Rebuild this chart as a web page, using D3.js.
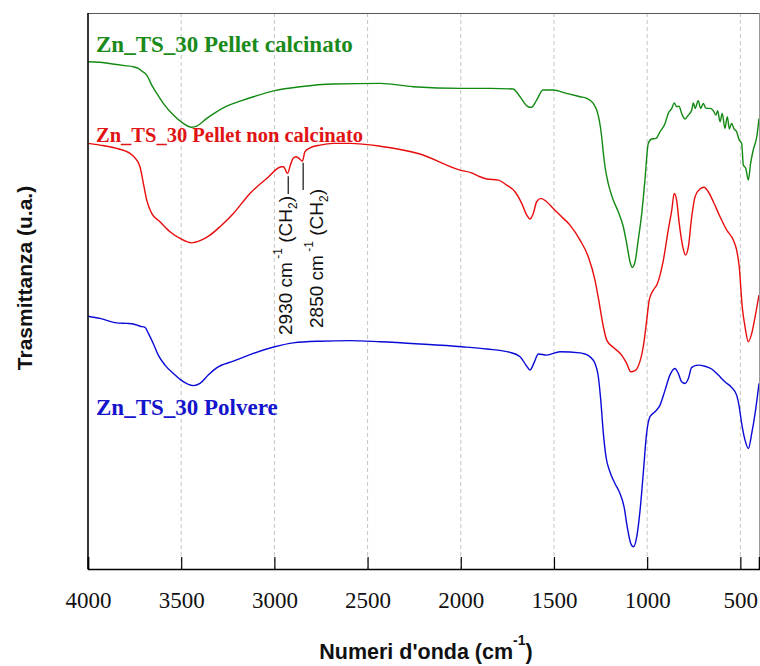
<!DOCTYPE html>
<html>
<head>
<meta charset="utf-8">
<script src="https://cdn.jsdelivr.net/npm/d3@7"></script>
<style>
  html, body { margin: 0; padding: 0; background: #fff; }
  svg { display: block; }
</style>
</head>
<body>
<svg id="chart" width="760" height="666"></svg>
<script>
// FT-IR spectra: [wavenumber (cm^-1), transmittance (a.u.)]
const pelletCalcinato = [
  [4000, 91.3], [3936, 91.2], [3846, 90.8], [3801, 90.6], [3757, 90.4], [3730, 90.1],
  [3710, 89.6], [3685, 88.9], [3658, 87.1], [3631, 85.6], [3596, 83.8], [3542, 81.7],
  [3489, 80.2], [3444, 79.5], [3417, 79.7], [3363, 81.1], [3319, 82.1], [3256, 83.3],
  [3184, 84.2], [3113, 85.0], [2998, 86.1], [2863, 86.8], [2684, 87.3], [2433, 87.4],
  [2256, 86.8], [1999, 86.5], [1843, 86.5], [1720, 86.4], [1682, 85.0], [1639, 83.2],
  [1620, 83.1], [1593, 84.4], [1559, 86.2], [1505, 86.2], [1432, 85.6], [1360, 85.0],
  [1324, 84.7], [1289, 83.8], [1271, 82.6], [1257, 80.8], [1244, 77.8], [1235, 74.8],
  [1226, 72.4], [1209, 69.4], [1182, 66.4], [1155, 64.3], [1128, 61.6], [1110, 58.6],
  [1092, 55.3], [1080, 54.3], [1065, 55.3], [1048, 59.2], [1029, 64.0], [1012, 70.0],
  [994, 76.6], [976, 77.4], [953, 77.5], [931, 78.7], [904, 80.2], [887, 82.0],
  [868, 82.9], [855, 83.9], [842, 83.2], [829, 83.3], [815, 82.0], [797, 81.0],
  [779, 81.7], [761, 82.6], [752, 83.9], [743, 82.9], [726, 84.3], [713, 82.9],
  [699, 83.8], [684, 82.9], [663, 82.9], [645, 82.5], [631, 81.7], [622, 82.5],
  [609, 80.5], [597, 82.0], [583, 79.3], [570, 81.4], [559, 79.2], [547, 80.2],
  [534, 79.2], [520, 78.7], [506, 77.2], [493, 76.6], [484, 72.7], [471, 72.1],
  [457, 70.0], [445, 73.0], [431, 75.4], [412, 77.8], [400, 81.1]
];

const pelletNonCalcinato = [
  [4000, 76.6], [3936, 76.3], [3846, 75.7], [3775, 74.8], [3748, 74.0], [3721, 72.4],
  [3703, 69.4], [3685, 66.4], [3658, 64.0], [3614, 62.5], [3560, 60.7], [3506, 59.5],
  [3444, 58.7], [3399, 59.1], [3345, 60.1], [3292, 61.6], [3220, 64.0], [3131, 67.6],
  [3041, 70.3], [2961, 72.4], [2951, 72.4], [2930, 71.2], [2914, 72.7], [2900, 73.9],
  [2884, 74.2], [2868, 73.9], [2850, 73.4], [2836, 75.1], [2809, 75.8], [2755, 76.3],
  [2684, 76.6], [2594, 76.6], [2433, 76.1], [2219, 74.7], [2004, 71.8], [1942, 71.3],
  [1897, 70.6], [1861, 70.2], [1799, 70.0], [1754, 69.1], [1709, 67.9], [1673, 65.8],
  [1646, 63.7], [1629, 63.0], [1611, 64.0], [1593, 66.1], [1570, 66.7], [1539, 66.1],
  [1504, 64.9], [1459, 63.4], [1414, 61.9], [1360, 59.2], [1316, 56.2], [1280, 52.0],
  [1262, 48.8], [1235, 43.6], [1217, 41.2], [1182, 39.9], [1137, 38.5], [1110, 37.0],
  [1088, 35.5], [1065, 35.7], [1048, 36.5], [1021, 40.0], [1003, 44.6], [989, 48.4],
  [967, 50.2], [946, 51.3], [931, 52.9], [913, 55.6], [887, 61.0], [868, 64.6],
  [855, 67.6], [842, 66.4], [828, 62.2], [809, 58.0], [795, 56.5], [779, 58.0],
  [761, 63.4], [743, 67.0], [717, 68.4], [695, 68.7], [672, 67.9], [645, 66.1],
  [609, 63.4], [573, 61.0], [538, 59.2], [520, 57.4], [506, 54.4], [490, 47.2],
  [475, 43.6], [457, 40.9], [439, 42.4], [421, 45.4], [400, 49.3]
];

const polvere = [
  [4000, 45.5], [3936, 45.1], [3846, 44.3], [3792, 44.2], [3757, 44.1], [3721, 43.7],
  [3694, 43.5], [3676, 42.4], [3650, 40.6], [3623, 38.5], [3587, 36.7], [3542, 35.2],
  [3497, 33.9], [3435, 33.0], [3399, 33.4], [3355, 34.9], [3310, 36.2], [3220, 37.4],
  [3113, 38.8], [2998, 40.0], [2899, 40.7], [2755, 41.0], [2594, 41.1], [2433, 40.9],
  [2219, 40.5], [1995, 40.0], [1861, 39.6], [1736, 39.0], [1682, 38.2], [1646, 36.5],
  [1629, 35.8], [1607, 37.1], [1584, 38.7], [1539, 38.5], [1468, 39.1], [1360, 38.9],
  [1334, 38.7], [1307, 38.2], [1280, 37.0], [1262, 34.6], [1249, 30.4], [1235, 24.4],
  [1221, 20.2], [1200, 17.5], [1173, 15.4], [1146, 13.6], [1124, 11.2], [1107, 7.6],
  [1088, 4.6], [1074, 4.0], [1056, 5.8], [1038, 10.6], [1021, 17.2], [1003, 24.4],
  [985, 27.4], [958, 28.3], [931, 29.5], [904, 32.2], [878, 34.9], [851, 36.1],
  [833, 35.2], [815, 33.7], [797, 33.4], [779, 34.3], [761, 36.3], [726, 36.7],
  [690, 36.5], [654, 36.0], [618, 34.9], [583, 33.7], [547, 32.7], [520, 31.3],
  [506, 29.2], [493, 26.2], [475, 23.2], [457, 21.7], [439, 24.4], [421, 28.0],
  [400, 33.4]
];

const xTicks = [4000, 3500, 3000, 2500, 2000, 1500, 1000, 500];
const seriesNames = ["Zn_TS_30 Pellet calcinato", "Zn_TS_30 Pellet non calcinato", "Zn_TS_30 Polvere"];
// CH2 stretching bands marked on the uncalcined pellet spectrum
const bandMarks = [
  { wn: 2930, top: 70.7, bottom: 67.5, label: "2930 cm" },
  { wn: 2850, top: 73.1, bottom: 68.2, label: "2850 cm" }
];

const serifFont = "Liberation Serif, Times New Roman, Times, serif";
const sansFont = "Liberation Sans, Arial, Helvetica, sans-serif";

const svg = d3.select("#chart");
const plot = { left: 88, right: 759, top: 13, bottom: 569 };

const x = d3.scaleLinear().domain([4000, 400]).range([plot.left, plot.right]);
const y = d3.scaleLinear().domain([0, 100]).range([plot.bottom, plot.bottom - 555.6]);

svg.append("defs").append("clipPath").attr("id", "plotClip")
  .append("rect")
  .attr("x", plot.left).attr("y", plot.top)
  .attr("width", plot.right - plot.left).attr("height", plot.bottom - plot.top);

// dashed vertical grid
svg.append("g").selectAll("line")
  .data(xTicks.filter(d => d !== 4000))
  .join("line")
  .attr("x1", d => x(d)).attr("x2", d => x(d))
  .attr("y1", plot.top).attr("y2", plot.bottom)
  .attr("stroke", "#c4c4c4").attr("stroke-width", 1)
  .attr("stroke-dasharray", "4,3");

// frame: top and right in grey
svg.append("line").attr("x1", plot.left).attr("x2", plot.right)
  .attr("y1", plot.top + 0.5).attr("y2", plot.top + 0.5)
  .attr("stroke", "#555").attr("stroke-width", 1);
svg.append("line").attr("x1", plot.right + 0.5).attr("x2", plot.right + 0.5)
  .attr("y1", plot.top).attr("y2", plot.bottom)
  .attr("stroke", "#999").attr("stroke-width", 1);

// spectra
const line = d3.line().x(d => x(d[0])).y(d => y(d[1])).curve(d3.curveMonotoneX);
const spectra = [
  { data: pelletCalcinato, color: "#128a12" },
  { data: pelletNonCalcinato, color: "#e80c0c" },
  { data: polvere, color: "#0a0ad8" }
];
svg.append("g").attr("clip-path", "url(#plotClip)")
  .selectAll("path")
  .data(spectra)
  .join("path")
  .attr("d", d => line(d.data))
  .attr("fill", "none")
  .attr("stroke", d => d.color)
  .attr("stroke-width", 1.4)
  .attr("stroke-linejoin", "round");

// bottom axis with inward ticks
const xAxis = d3.axisBottom(x).tickValues(xTicks).tickSize(-12).tickPadding(0).tickFormat(d3.format("d"));
const gx = svg.append("g").attr("transform", `translate(0,${plot.bottom})`).call(xAxis);
gx.attr("font-family", null).attr("font-size", null)
  .style("font-family", serifFont).style("font-size", "23px");
gx.select(".domain").attr("stroke", "#000").attr("stroke-width", 1.6);
gx.selectAll(".tick line").attr("stroke", "#000").attr("stroke-width", 1.2);
gx.selectAll(".tick text")
  .attr("y", 39)
  .attr("dy", 0)
  .style("font-family", serifFont)
  .style("font-size", "23px")
  .attr("fill", "#111");

// left axis line (no ticks)
svg.append("line").attr("x1", plot.left).attr("x2", plot.left)
  .attr("y1", plot.top).attr("y2", plot.bottom)
  .attr("stroke", "#000").attr("stroke-width", 1.6);

// axis titles
const xt = svg.append("text")
  .attr("x", 426).attr("y", 659)
  .attr("text-anchor", "middle")
  .style("font-family", sansFont)
  .attr("font-weight", "bold").attr("font-size", 21.5).attr("fill", "#111");
xt.append("tspan").text("Numeri d'onda (cm");
xt.append("tspan").attr("font-size", 14).attr("dy", -14).text("-1");
xt.append("tspan").attr("dy", 14).text(")");

svg.append("text")
  .attr("transform", "translate(32,278) rotate(-90)")
  .attr("text-anchor", "middle")
  .style("font-family", sansFont)
  .attr("font-weight", "bold").attr("font-size", 21).attr("fill", "#111")
  .text("Trasmittanza (u.a.)");

// series labels
const labels = [
  { text: seriesNames[0], color: "#1a8a1a", x: 96, y: 52, size: 23 },
  { text: seriesNames[1], color: "#e01414", x: 96, y: 142, size: 20.5 },
  { text: seriesNames[2], color: "#1414cc", x: 96, y: 414.5, size: 23 }
];
svg.append("g").selectAll("text")
  .data(labels)
  .join("text")
  .attr("x", d => d.x).attr("y", d => d.y)
  .style("font-family", serifFont)
  .attr("font-weight", "bold")
  .attr("font-size", d => d.size)
  .attr("fill", d => d.color)
  .text(d => d.text);

// CH2 band markers and rotated labels
svg.append("g").selectAll("line")
  .data(bandMarks)
  .join("line")
  .attr("x1", d => x(d.wn) + 0.8).attr("x2", d => x(d.wn) + 0.8)
  .attr("y1", d => y(d.top)).attr("y2", d => y(d.bottom))
  .attr("stroke", "#111").attr("stroke-width", 1.2);

const bandLabelPos = [[291.5, 335], [323.3, 328]];
bandMarks.forEach((b, i) => {
  const t = svg.append("text")
    .attr("transform", `translate(${bandLabelPos[i][0]},${bandLabelPos[i][1]}) rotate(-90)`)
    .style("font-family", sansFont)
    .attr("font-size", 19).attr("fill", "#111");
  t.append("tspan").text(b.label);
  t.append("tspan").attr("font-size", 12).attr("dy", -10).text(" -1");
  t.append("tspan").attr("dy", 10).text(" (CH");
  t.append("tspan").attr("font-size", 12).attr("dy", 5).text("2");
  t.append("tspan").attr("dy", -5).text(")");
});
</script>
</body>
</html>
